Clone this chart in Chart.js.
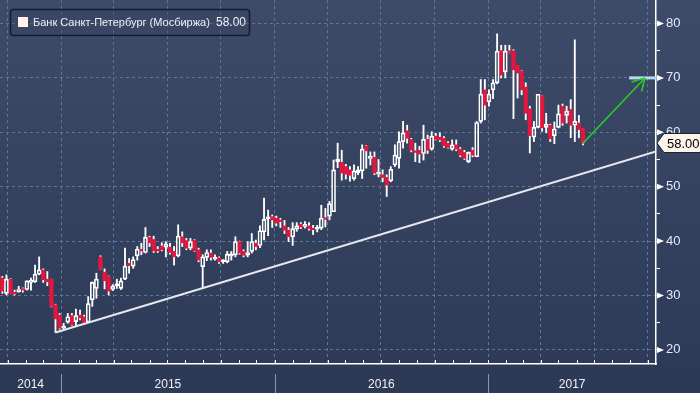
<!DOCTYPE html>
<html><head><meta charset="utf-8">
<script src="https://cdn.jsdelivr.net/npm/chart.js@4.4.1/dist/chart.umd.min.js"></script>
<style>html,body{margin:0;padding:0;background:#2c3957;}canvas{display:block;}</style>
</head><body>
<canvas id="c" width="700" height="393"></canvas>
<script>
// ---- data ----
const seriesName = 'Банк Санкт-Петербург (Мосбиржа)';
const lastPriceLabel = '58.00';
const firstWeek = '2014-09-15';           // weekly candles, Monday of each week
const open = [33.9,33.2,30.4,33.0,30.6,30.7,31.2,31.1,32.4,32.5,
 33.9,34.7,33.0,33.0,28.3,26.4,24.0,25.1,26.3,25.2,
 26.4,26.1,25.1,29.2,31.3,37.1,34.3,33.5,31.1,31.8,
 31.3,33.0,35.9,35.4,37.3,38.5,37.9,40.7,40.3,38.5,
 39.1,38.9,38.9,38.1,37.3,40.8,40.1,38.7,40.2,38.4,
 35.3,37.0,37.8,36.7,36.9,36.2,36.2,37.3,37.5,39.9,
 38.1,37.4,38.1,39.6,39.2,41.7,44.1,44.5,44.2,43.9,
 42.8,42.0,40.8,42.2,43.1,42.7,42.8,42.3,42.2,42.4,
 44.3,44.6,45.4,54.6,54.5,53.7,53.1,51.5,52.6,52.9,
 57.5,55.2,55.4,52.3,52.2,51.7,51.1,54.0,55.2,58.3,
 60.3,58.7,56.6,56.7,56.1,58.7,56.9,59.3,59.1,58.9,
 58.0,56.9,57.7,56.9,56.3,54.6,56.7,55.5,62.0,67.8,
 65.6,67.8,69.1,75.0,71.1,75.0,75.0,72.3,71.2,68.3,
 64.3,59.1,60.9,66.7,60.9,61.3,59.4,60.9,64.8,63.1,
 64.2,61.3,61.7,60.7];
const high = [34.7,33.5,33.8,33.1,31.0,31.7,31.4,32.7,33.2,35.6,
 37.1,34.9,34.4,33.0,28.4,26.7,24.9,26.7,26.7,27.5,
 27.3,26.4,29.8,32.5,34.1,37.3,34.9,33.6,32.0,33.0,
 33.2,38.7,36.8,37.1,39.0,39.6,42.5,40.9,40.9,39.0,
 39.7,39.9,39.6,39.0,43.0,41.7,40.5,40.5,40.3,38.7,
 37.5,38.4,38.4,37.5,37.1,36.6,38.1,38.1,40.8,40.0,
 38.4,39.9,41.4,40.2,42.8,47.9,45.7,44.8,44.6,44.2,
 43.8,42.5,43.4,43.4,43.4,43.6,43.4,42.9,42.9,46.6,
 46.0,47.3,54.9,58.0,56.7,54.1,53.7,54.0,53.7,57.7,
 57.6,56.4,56.4,55.0,53.1,52.2,53.7,57.7,60.1,62.0,
 61.3,58.9,58.0,57.4,61.3,59.5,60.1,59.8,59.9,59.2,
 58.3,58.6,58.6,57.2,56.7,56.4,57.2,62.0,69.7,69.7,
 67.8,69.7,78.1,76.0,76.0,76.0,75.2,72.3,71.3,69.1,
 64.8,62.0,67.0,66.7,63.5,61.5,61.9,65.0,65.2,64.8,
 66.0,77.0,63.1,60.7];
const low = [32.2,30.4,30.1,30.3,30.1,30.6,30.6,31.0,31.0,32.4,
 33.8,32.4,31.8,27.9,23.2,23.8,23.8,24.9,24.5,24.3,
 25.5,24.8,25.1,28.0,29.5,34.8,31.2,30.1,30.9,31.3,
 31.1,32.9,34.1,35.0,36.5,37.5,37.8,39.0,37.9,37.9,
 38.2,37.1,37.6,35.6,37.1,39.0,38.4,38.4,38.1,36.2,
 31.4,36.4,36.5,36.5,35.9,35.9,36.0,36.5,37.1,37.6,
 37.1,37.1,37.8,38.4,38.8,40.2,41.0,42.5,42.8,42.5,
 41.4,39.9,39.2,41.8,42.3,42.4,42.0,41.2,41.7,42.1,
 42.6,43.9,45.4,53.5,51.2,51.4,51.0,51.2,52.2,51.5,
 53.4,54.0,52.2,51.8,50.9,48.2,50.9,53.7,53.4,57.1,
 58.0,56.4,54.6,54.4,54.9,56.1,56.7,58.6,58.3,57.2,
 57.1,56.7,56.6,55.5,55.0,54.4,55.5,55.5,61.7,62.3,
 64.8,66.2,68.9,70.0,70.0,74.6,62.5,66.3,66.9,62.3,
 56.2,58.3,60.8,60.2,59.9,58.3,57.9,60.8,61.3,61.7,
 59.0,58.3,59.0,57.7];
const close = [32.7,30.8,33.0,30.3,30.3,31.1,31.0,32.7,32.8,33.9,
 34.7,32.9,32.5,28.0,25.7,24.0,24.4,26.1,24.6,26.3,
 25.9,24.9,28.5,32.4,33.0,34.8,32.7,30.8,31.7,32.0,
 32.7,35.4,35.5,36.6,38.5,38.2,40.7,39.7,38.2,38.2,
 38.4,39.5,37.9,37.1,40.9,39.7,38.7,39.9,38.2,36.5,
 37.1,37.9,37.0,36.9,36.2,36.4,37.6,37.5,39.9,37.8,
 37.4,37.9,39.9,39.0,41.9,44.0,44.2,43.9,43.3,43.6,
 42.0,40.8,42.3,42.8,42.6,43.1,42.3,42.1,42.4,44.2,
 44.0,46.9,53.1,55.1,52.5,52.3,52.1,52.9,53.1,56.9,
 56.6,55.6,52.5,52.6,51.7,50.3,53.2,55.8,58.3,59.9,
 58.9,56.7,56.3,56.0,58.7,56.7,59.3,58.7,58.6,57.5,
 57.2,57.7,56.9,55.8,55.2,56.3,55.8,61.8,67.0,65.0,
 67.0,69.1,74.9,70.5,74.9,74.6,71.5,70.9,67.8,63.5,
 59.4,60.9,67.0,60.8,61.5,58.8,60.6,63.4,61.7,63.9,
 61.3,62.0,60.5,58.0];
const yTickValues = [20,25,30,35,40,45,50,55,60,65,70,75,80];
const yearLabels = ['2014','2015','2016','2017'];
const xRange = ['2014-09-18','2017-10-15'];
const yRange = [17.41, 84.32];
const trendLine = {x:['2014-12-22','2017-10-15'], y:[23.2,56.5]};
const arrowLine = {x:['2017-06-12','2017-09-26'], y:[58.0,70.0]};
const targetLine = {x:['2017-08-30','2017-10-15'], y:[70,70]};

// ---- build ----
const DAY = 86400000;
const t0 = Date.parse(firstWeek);
const dates = open.map((_, i) => t0 + i * 7 * DAY);
const xMin = Date.parse(xRange[0]), xMax = Date.parse(xRange[1]);
const isUp = i => close[i] >= open[i];
const RED = '#e3173e';

const upBodyPts = [], downBodyPts = [];
dates.forEach((d, i) => (isUp(i) ? upBodyPts : downBodyPts).push({x: d, y: [open[i], close[i]]}));
const wickHiPts = dates.map((d, i) => ({x: d, y: [Math.max(open[i], close[i]), high[i]]}));
const wickLoPts = dates.map((d, i) => ({x: d, y: [low[i], Math.min(open[i], close[i])]}));
const toPts = o => o.x.map((d, i) => ({x: Date.parse(d), y: o.y[i]}));

// axis tick sets
const monthStarts = [], quarterStarts = [];
{
  const a = new Date(xMin);
  let y = a.getUTCFullYear(), m = a.getUTCMonth();
  for (;;) {
    const t = Date.UTC(y, m, 1);
    if (t > xMax) break;
    if (t >= xMin) { monthStarts.push(t); if (m % 3 === 0) quarterStarts.push(t); }
    m++; if (m > 11) { m = 0; y++; }
  }
}
const yearLabelPos = {};
yearLabels.forEach(lbl => {
  const yr = +lbl;
  const a = Math.max(Date.UTC(yr, 0, 1), xMin), b = Math.min(Date.UTC(yr + 1, 0, 1), xMax);
  yearLabelPos[Math.round((a + b) / 2)] = lbl;
});
const yearStarts = yearLabels.map(l => Date.UTC(+l, 0, 1)).filter(t => t > xMin && t < xMax);
const quarterSet = new Set(quarterStarts);
const xTicks = [...quarterStarts, ...Object.keys(yearLabelPos).map(Number)].sort((a, b) => a - b);

const GRID = '#587894';

const bgPlugin = {
  id: 'bg',
  beforeDraw(chart) {
    const c = chart.ctx, a = chart.chartArea;
    c.save();
    const g = c.createLinearGradient(0, 0, 0, a.bottom);
    g.addColorStop(0, '#3e4b68');
    g.addColorStop(1, '#2d3a58');
    c.fillStyle = g;
    c.fillRect(0, 0, chart.width, a.bottom);
    c.fillStyle = '#2c3957';
    c.fillRect(0, a.bottom, chart.width, chart.height - a.bottom);
    c.restore();
  }
};

const overlayPlugin = {
  id: 'overlay',
  afterDraw(chart) {
    const c = chart.ctx, a = chart.chartArea;
    const xs = chart.scales.x, ys = chart.scales.y;
    c.save();
    // month ticks pointing up from bottom axis
    c.strokeStyle = '#ffffff'; c.lineWidth = 1;
    monthStarts.forEach(t => {
      const x = Math.round(xs.getPixelForValue(t)) + 0.5;
      c.beginPath(); c.moveTo(x, a.bottom); c.lineTo(x, a.bottom - 4); c.stroke();
    });
    // year separators in the bottom band
    c.strokeStyle = '#8d97ab';
    yearStarts.forEach(t => {
      const x = Math.round(xs.getPixelForValue(t)) + 0.5;
      c.beginPath(); c.moveTo(x, a.bottom + 10); c.lineTo(x, chart.height); c.stroke();
    });
    // triangle markers at labelled y ticks
    c.fillStyle = '#ffffff';
    yTickValues.filter(v => v % 10 === 0).forEach(v => {
      const y = ys.getPixelForValue(v);
      c.beginPath(); c.moveTo(a.right + 1, y - 3); c.lineTo(a.right + 8, y); c.lineTo(a.right + 1, y + 3); c.closePath(); c.fill();
    });
    // arrow head
    const ap = toPts(arrowLine);
    const x1 = xs.getPixelForValue(ap[0].x), y1 = ys.getPixelForValue(ap[0].y);
    const x2 = xs.getPixelForValue(ap[1].x), y2 = ys.getPixelForValue(ap[1].y);
    const ang = Math.atan2(y1 - y2, x1 - x2);
    c.strokeStyle = '#2ad02a'; c.lineWidth = 1.5;
    [0.52, -0.52].forEach(d => {
      c.beginPath(); c.moveTo(x2, y2);
      c.lineTo(x2 + 14 * Math.cos(ang + d), y2 + 14 * Math.sin(ang + d)); c.stroke();
    });
    // last price tag
    const py = Math.round(ys.getPixelForValue(close[close.length - 1]));
    c.beginPath();
    c.moveTo(a.right + 1, py);
    c.lineTo(a.right + 8, py - 9.5); c.lineTo(chart.width + 2, py - 9.5);
    c.lineTo(chart.width + 2, py + 9.5); c.lineTo(a.right + 8, py + 9.5); c.closePath();
    c.fillStyle = '#fdf4ea'; c.fill();
    c.strokeStyle = '#1b2436'; c.lineWidth = 1; c.stroke();
    c.fillStyle = '#000000'; c.font = '13px "Liberation Sans", Arial, sans-serif';
    c.textBaseline = 'middle'; c.textAlign = 'left';
    c.fillText(lastPriceLabel, a.right + 11, py + 1);
    // legend box
    c.beginPath();
    c.roundRect(10.5, 9.5, 239, 26, 3);
    c.fillStyle = 'rgba(52,66,95,0.35)'; c.fill();
    c.strokeStyle = '#151d2c'; c.lineWidth = 1.5; c.stroke();
    c.fillStyle = '#fff3ec';
    c.fillRect(18, 17, 10, 10);
    c.fillStyle = '#eef0f4'; c.font = '11px "Liberation Sans", Arial, sans-serif';
    c.textBaseline = 'middle';
    c.fillText(seriesName, 33, 23);
    c.font = '12px "Liberation Sans", Arial, sans-serif';
    c.fillText(close[close.length - 1].toFixed(2), 216, 23);
    c.restore();
  }
};

Chart.defaults.font.family = '"Liberation Sans", Arial, sans-serif';

new Chart(document.getElementById('c'), {
  type: 'bar',
  data: {
    datasets: [
      {type: 'line', data: toPts(arrowLine), borderColor: '#2ad02a', borderWidth: 1.5, pointRadius: 0, order: 0},
      {type: 'line', data: toPts(trendLine), borderColor: '#e6e8ee', borderWidth: 2, pointRadius: 0, order: 1},
      {type: 'line', data: toPts(targetLine), borderColor: '#b9d8f2', borderWidth: 3, pointRadius: 0, order: 1},
      {label: seriesName + ' up', data: upBodyPts, grouped: false, barThickness: 4, minBarLength: 2, borderSkipped: false,
       backgroundColor: 'rgba(0,0,0,0)', borderColor: '#ffffff', borderWidth: 1, order: 2},
      {label: seriesName + ' down', data: downBodyPts, grouped: false, barThickness: 3.6, minBarLength: 1.5, borderSkipped: false,
       backgroundColor: RED, borderWidth: 0, order: 2},
      {data: wickHiPts, grouped: false, barThickness: 1.2, backgroundColor: '#ffffff', order: 3},
      {data: wickLoPts, grouped: false, barThickness: 1.2, backgroundColor: '#ffffff', order: 3}
    ]
  },
  options: {
    responsive: false, animation: false, devicePixelRatio: 1,
    layout: {padding: 0},
    plugins: {legend: {display: false}, tooltip: {enabled: false}},
    scales: {
      x: {
        type: 'linear', min: xMin, max: xMax, offset: false,
        grid: {offset: false, drawTicks: false, lineWidth: 1,
               color: ctx => (ctx.tick && quarterSet.has(ctx.tick.value)) ? GRID : 'rgba(0,0,0,0)'},
        border: {color: '#ffffff', width: 1.5, dash: [3, 3]},
        ticks: {autoSkip: false, maxRotation: 0, color: '#f2f2f2', font: {size: 12}, padding: 13,
                callback: v => yearLabelPos[v] || ''},
        afterBuildTicks: s => { s.ticks = xTicks.map(v => ({value: v})); },
        afterFit: s => { s.height = 29; s.paddingLeft = 0; s.paddingRight = 0; }
      },
      y: {
        position: 'right', min: yRange[0], max: yRange[1],
        grid: {drawTicks: true, tickLength: 4, tickColor: '#ffffff', tickWidth: 1, lineWidth: 1,
               color: ctx => (ctx.tick && ctx.tick.value % 10 === 0) ? GRID : 'rgba(0,0,0,0)'},
        border: {color: '#ffffff', width: 1.5, dash: [3, 3]},
        ticks: {color: '#e2eaf5', font: {size: 13}, padding: 6,
                callback: v => v % 10 === 0 ? String(v) : ''},
        afterBuildTicks: s => { s.ticks = yTickValues.map(v => ({value: v})); },
        afterFit: s => { s.width = 44; s.paddingTop = 0; s.paddingBottom = 0; }
      }
    }
  },
  plugins: [bgPlugin, overlayPlugin]
});
</script>
</body></html>
